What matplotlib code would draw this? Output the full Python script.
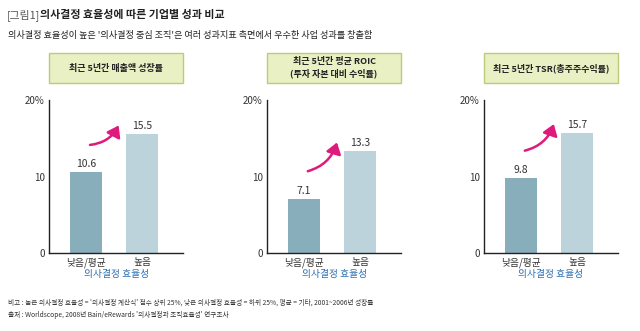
import matplotlib.pyplot as plt
from matplotlib.patches import Rectangle, FancyArrowPatch

plt.rcParams['font.family'] = ['Noto Sans CJK KR', 'DejaVu Sans']

panel_titles = ['최근 5년간 매출액 성장률', '최근 5년간 평균 ROIC\n(투자 자본 대비 수익률)', '최근 5년간 TSR(총주주수익률)']
categories = ['낮음/평균', '높음']
low_vals = [10.6, 7.1, 9.8]
high_vals = [15.5, 13.3, 15.7]
yticks = [0, 10, 20]
ytick_labels = ['0', '10', '20%']

dark = '#88adbb'
light = '#bdd3dc'
pink = '#e0197d'
blue = '#2d6fb4'

fig = plt.figure(figsize=(6.4, 3.31), dpi=100)

fig.text(0.011, 0.955, '[그림1]', fontsize=7.8, color='#555555', va='center')
fig.text(0.063, 0.955, '의사결정 효율성에 따른 기업별 성과 비교', fontsize=7.9, fontweight='bold',
         color='#222222', va='center')
fig.text(0.012, 0.893, "의사결정 효율성이 높은 '의사결정 중심 조직'은 여러 성과지표 측면에서 우수한 사업 성과를 창출함",
         fontsize=6.6, color='#222222', va='center')

lefts = [0.0766, 0.417, 0.756]
width = 0.21
for i in range(3):
    ax = fig.add_axes([lefts[i], 0.2356, width, 0.4622])
    ax.bar([0, 1], [low_vals[i], high_vals[i]], width=0.57, color=[dark, light])
    ax.set_xlim(-0.66, 1.73)
    ax.set_ylim(0, 20)
    ax.set_yticks(yticks)
    ax.set_yticklabels(ytick_labels)
    ax.set_xticks([0, 1])
    ax.set_xticklabels(categories)
    ax.tick_params(length=0, labelsize=7, colors='#333333', pad=3)
    for s in ['top', 'right']:
        ax.spines[s].set_visible(False)
    for s in ['left', 'bottom']:
        ax.spines[s].set_linewidth(1.0)
        ax.spines[s].set_color('#222222')
    for x, v in zip([0, 1], [low_vals[i], high_vals[i]]):
        ax.text(x, v + 0.4, f'{v:.1f}', ha='center', va='bottom', fontsize=7.5, color='#333333')
    arr = FancyArrowPatch((0.02, low_vals[i] + 3.5), (0.6, high_vals[i] + 1.5),
                          connectionstyle='arc3,rad=0.3', arrowstyle='-|>,head_length=5,head_width=3.5',
                          color=pink, lw=1.8, mutation_scale=1.3)
    ax.add_patch(arr)
    ax.set_xlabel('의사결정 효율성', fontsize=7, color=blue, labelpad=1)

    # title box
    bx = lefts[i]
    fig.patches.append(Rectangle((bx, 0.749), width, 0.091, transform=fig.transFigure,
                                 facecolor='#e8f0c4', edgecolor='#c0c97a', lw=1.0))
    fig.text(bx + width / 2, 0.7945, panel_titles[i], ha='center', va='center', fontsize=6.5,
             fontweight='bold', color='#222222', linespacing=1.3)

fig.text(0.012, 0.085, "비고 : 높은 의사결정 효율성 = '의사결정 계산식' 점수 상위 25%, 낮은 의사결정 효율성 = 하위 25%, 평균 = 기타, 2001~2006년 성장률",
         fontsize=4.8, color='#333333', va='center')
fig.text(0.012, 0.048, "출처 : Worldscope, 2008년 Bain/eRewards '의사결정과 조직효율성' 연구조사",
         fontsize=4.8, color='#333333', va='center')

fig.savefig('out.png', dpi=100)
